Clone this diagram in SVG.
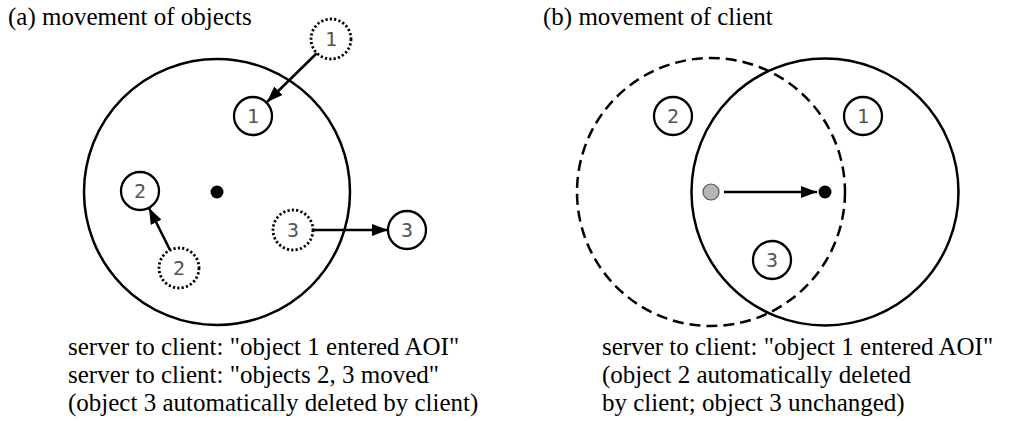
<svg xmlns="http://www.w3.org/2000/svg" width="1024" height="421" viewBox="0 0 1024 421">
<defs>
<marker id="ah" viewBox="0 0 16 12" refX="16" refY="6" markerWidth="16" markerHeight="12" markerUnits="userSpaceOnUse" orient="auto">
<path d="M0,0 L16,6 L0,12 Z" fill="#000"/>
</marker>
</defs>
<style>
.t{font-family:"Liberation Serif","Times New Roman",serif;font-size:25px;fill:#000}
.big{fill:none;stroke:#000;stroke-width:2.5}
.dash{fill:none;stroke:#000;stroke-width:2.5;stroke-dasharray:11 6}
.obj{fill:#fff;stroke:#000;stroke-width:2.3}
.dot{fill:#fff;stroke:#000;stroke-width:2.8;stroke-dasharray:2.2 2.2}
.n{font-family:"DejaVu Sans Mono","Liberation Mono",monospace;font-size:20px;fill:#555;text-anchor:middle}
.c{stroke:#000;stroke-width:2.5;fill:none;marker-end:url(#ah)}
</style>
<rect width="1024" height="421" fill="#fff"/>

<g id="panel-a">
<text class="t" x="8" y="25">(a) movement of objects</text>
<circle id="aoi-a" class="big" cx="217" cy="192" r="133"/>
<circle id="client-a" cx="217" cy="192" r="6.5" fill="#000"/>
</g>

<g id="connectors">
<line class="c" x1="317" y1="53" x2="267" y2="102"/>
<line class="c" x1="170" y1="250" x2="149" y2="208"/>
<line class="c" x1="313" y1="230" x2="388" y2="230"/>
<line class="c" x1="724" y1="192" x2="817" y2="192"/>
</g>

<g id="a-obj1-old"><circle class="dot" cx="331" cy="39" r="20"/><text class="n" x="331" y="46">1</text></g>
<g id="a-obj1-new"><circle class="obj" cx="253" cy="116" r="19"/><text class="n" x="253" y="123">1</text></g>
<g id="a-obj2-new"><circle class="obj" cx="140" cy="191" r="19"/><text class="n" x="140" y="198">2</text></g>
<g id="a-obj2-old"><circle class="dot" cx="179" cy="268" r="20"/><text class="n" x="179" y="275">2</text></g>
<g id="a-obj3-old"><circle class="dot" cx="293" cy="230" r="20"/><text class="n" x="293" y="237">3</text></g>
<g id="a-obj3-new"><circle class="obj" cx="407" cy="230" r="19"/><text class="n" x="407" y="237">3</text></g>

<g id="caption-a">
<text class="t" x="68" y="355">server to client: "object 1 entered AOI"</text>
<text class="t" x="68" y="383">server to client: "objects 2, 3 moved"</text>
<text class="t" x="68" y="411">(object 3 automatically deleted by client)</text>
</g>

<g id="panel-b">
<text class="t" x="543" y="25">(b) movement of client</text>
<circle id="aoi-old" class="dash" cx="711" cy="192" r="134"/>
<circle id="aoi-new" class="big" cx="825" cy="192" r="133.5"/>
<circle id="client-old" cx="711" cy="192" r="8" fill="#b5b5b5" stroke="#555" stroke-width="1.2"/>
<circle id="client-new" cx="825" cy="192" r="6.5" fill="#000"/>
</g>
<g id="b-obj2"><circle class="obj" cx="673" cy="116" r="19"/><text class="n" x="673" y="123">2</text></g>
<g id="b-obj1"><circle class="obj" cx="863" cy="116" r="19"/><text class="n" x="863" y="123">1</text></g>
<g id="b-obj3"><circle class="obj" cx="772" cy="260" r="19"/><text class="n" x="772" y="267">3</text></g>

<g id="caption-b">
<text class="t" x="602" y="355">server to client: "object 1 entered AOI"</text>
<text class="t" x="602" y="383">(object 2 automatically deleted</text>
<text class="t" x="602" y="411">by client; object 3 unchanged)</text>
</g>
</svg>
